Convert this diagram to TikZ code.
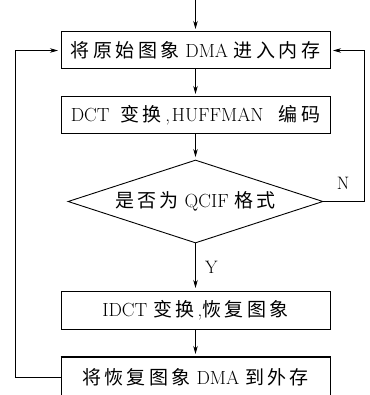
\documentclass[tikz,border=0pt]{standalone}
\usepackage{fontspec}
\newfontfamily\cjk[LetterSpace=18]{Noto Sans CJK SC}
\newcommand\zh[1]{{\cjk #1}}
\usetikzlibrary{shapes.geometric,arrows.meta}
\begin{document}
\begin{tikzpicture}[x=1pt,y=-1pt,
  every node/.style={font=\fontsize{19}{22}\selectfont},
  box/.style={draw,line width=1pt,rectangle,minimum width=269pt,minimum height=37pt,inner sep=0pt},
  dia/.style={draw,line width=0.9pt,diamond,minimum width=255pt,minimum height=83pt,shape aspect=3.07,inner sep=0pt},
  arr/.style={line width=0.7pt,-{Stealth[length=8pt,width=4.5pt]},shorten >=2.5pt},
  lbl/.style={font=\fontsize{18}{20}\selectfont}]
\useasboundingbox (0,0) rectangle (369,395);
\coordinate (top) at (195.5,0);
\node[box] (b1) at (195.5,50.5) {\zh{将原始图象} DMA \zh{进入内存}};
\node[box] (b2) at (195.5,115.5) {DCT\hspace{0.55em}\zh{变换}\hspace{0.2em},\hspace{0.1em}HUFFMAN\hspace{0.8em}\zh{编码}};
\node[dia] (d) at (195.5,201.5) {\zh{是否为} QCIF \zh{格式}};
\node[box,minimum height=38pt] (b3) at (195.5,310) {IDCT \zh{变换}\,,\zh{恢复图象}};
\node[box,minimum height=40pt] (b4) at (195.5,377) {\zh{将恢复图象} DMA \zh{到外存}};
\draw[line width=1.6pt] (b4.north west) -- (b4.north east);
\coordinate (rl) at (364,50.5);
\coordinate (ll) at (15,50.5);
\draw[arr] (top) -- (b1);
\draw[arr] (b1) -- (b2);
\draw[arr] (b2) -- (d);
\draw[arr] (d) -- node[lbl,right,xshift=6pt] (y) {Y} (b3);
\draw[arr] (b3) -- (b4);
\draw[arr] (d.east) -| (rl) -- (b1.east);
\draw[arr] (b4.west) -| (ll) -- (b1.west);
\node[lbl] (n) at (343,183) {N};
\end{tikzpicture}
\end{document}
